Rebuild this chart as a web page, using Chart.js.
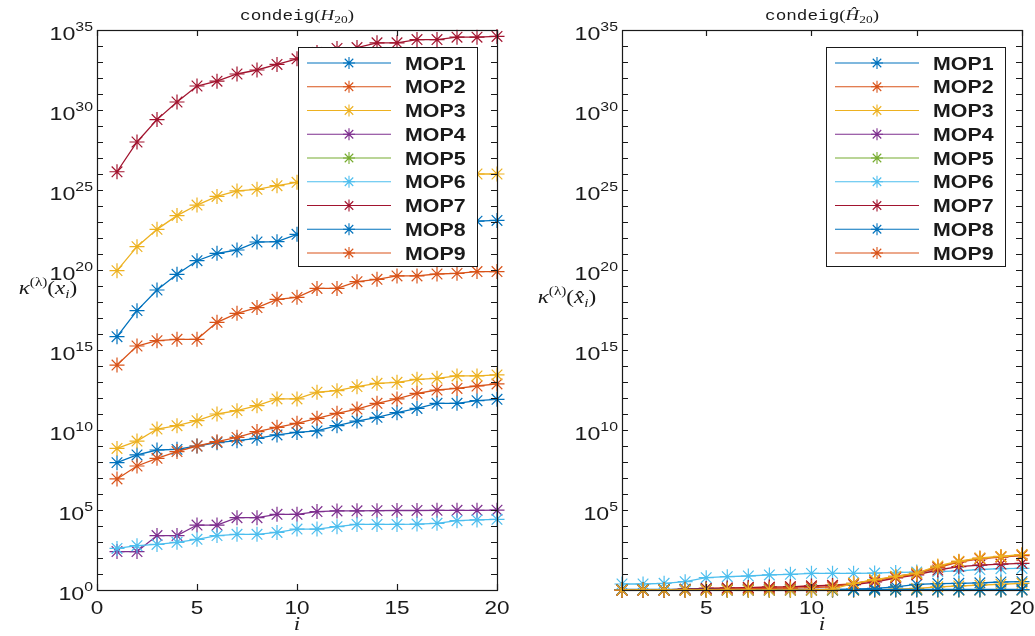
<!DOCTYPE html>
<html>
<head>
<meta charset="utf-8">
<script src="https://cdn.jsdelivr.net/npm/chart.js@4.4.1/dist/chart.umd.min.js"></script>
<style>
  body { margin: 0; background: #fff; width: 1035px; height: 636px; overflow: hidden; position: relative; }
  canvas { position: absolute; top: 0; }
</style>
</head>
<body>
<canvas id="left" width="517" height="636" style="left:0"></canvas>
<canvas id="right" width="518" height="636" style="left:517px"></canvas>
<script>
// index i of the eigenvalue
const steps = [1, 2, 3, 4, 5, 6, 7, 8, 9, 10, 11, 12, 13, 14, 15, 16, 17, 18, 19, 20];
const seriesNames = ['MOP1', 'MOP2', 'MOP3', 'MOP4', 'MOP5', 'MOP6', 'MOP7', 'MOP8', 'MOP9', ''];
const seriesColors = ['#0072BD', '#D95319', '#EDB120', '#7E2F8E', '#77AC30', '#4DBEEE', '#A2142F', '#0072BD', '#D95319', '#EDB120'];

// log10 of kappa -- left panel, condeig(H20)
const leftMop1 = [7.96, 8.44, 8.75, 8.79, 9.0, 9.21, 9.33, 9.48, 9.69, 9.85, 9.94, 10.27, 10.56, 10.79, 11.08, 11.35, 11.67, 11.67, 11.83, 11.92];
const leftMop2 = [6.94, 7.75, 8.23, 8.65, 9.0, 9.27, 9.54, 9.9, 10.17, 10.42, 10.73, 11.04, 11.31, 11.67, 11.94, 12.29, 12.5, 12.6, 12.75, 12.88];
const leftMop3 = [8.85, 9.31, 10.06, 10.27, 10.58, 11.0, 11.21, 11.52, 11.94, 11.94, 12.36, 12.46, 12.71, 12.92, 12.98, 13.17, 13.23, 13.38, 13.38, 13.44];
const leftMop4 = [2.4, 2.4, 3.4, 3.4, 4.06, 4.06, 4.52, 4.52, 4.73, 4.73, 4.9, 4.94, 4.95, 4.96, 4.97, 4.97, 4.98, 4.98, 4.98, 4.99];
const leftMop5 = [null, null, null, null, null, null, null, null, null, null, null, null, null, null, null, null, null, null, null, null];
const leftMop6 = [2.6, 2.77, 2.85, 2.98, 3.17, 3.4, 3.48, 3.48, 3.6, 3.81, 3.81, 3.96, 4.1, 4.1, 4.1, 4.12, 4.17, 4.33, 4.38, 4.42];
const leftMop7 = [26.14, 28.0, 29.4, 30.5, 31.5, 31.8, 32.25, 32.5, 32.85, 33.2, 33.6, 33.85, 33.9, 34.2, 34.2, 34.4, 34.4, 34.55, 34.55, 34.6];
const leftMop8 = [15.83, 17.46, 18.75, 19.73, 20.58, 21.04, 21.25, 21.75, 21.77, 22.23, 22.4, 22.5, 22.6, 22.7, 22.8, 22.85, 22.9, 23.0, 23.05, 23.1];
const leftMop9 = [14.06, 15.25, 15.58, 15.67, 15.67, 16.73, 17.29, 17.65, 18.17, 18.29, 18.85, 18.85, 19.27, 19.42, 19.63, 19.63, 19.75, 19.79, 19.9, 19.9];
const leftMop10 = [19.96, 21.46, 22.54, 23.4, 24.06, 24.6, 24.94, 25.04, 25.27, 25.48, 25.6, 25.7, 25.75, 25.8, 25.85, 25.9, 25.95, 25.95, 26.0, 26.0];

// right panel, condeig(H^20)
const rightMop1 = [0, 0, 0, 0, 0, 0, 0, 0, 0, 0, 0.02, 0.05, 0.1, 0.2, 0.35, 0.4, 0.42, 0.45, 0.5, 0.52];
const rightMop2 = [0, 0, 0, 0.05, 0.1, 0.12, 0.15, 0.18, 0.2, 0.25, 0.3, 0.4, 0.6, 0.85, 1.05, 1.45, 1.77, 1.98, 2.08, 2.19];
const rightMop3 = [0, 0, 0, 0, 0, 0, 0, 0, 0, 0, 0, 0, 0, 0.05, 0.1, 0.2, 0.25, 0.3, 0.36, 0.42];
const rightMop4 = [0, 0, 0, 0, 0, 0, 0, 0, 0, 0, 0, 0, 0, 0, 0, 0, 0, 0, 0, 0];
const rightMop5 = [0, 0, 0, 0, 0, 0, 0, 0, 0, 0, 0, 0, 0, 0, 0, 0, 0, 0, 0, 0];
const rightMop6 = [0.375, 0.375, 0.42, 0.52, 0.77, 0.83, 0.875, 0.94, 0.98, 1.04, 1.04, 1.04, 1.06, 1.1, 1.12, 1.15, 1.2, 1.28, 1.33, 1.35];
const rightMop7 = [0, 0, 0, 0.05, 0.1, 0.12, 0.15, 0.18, 0.2, 0.25, 0.28, 0.33, 0.5, 0.75, 0.95, 1.25, 1.46, 1.56, 1.62, 1.67];
const rightMop8 = [0.03, 0.03, 0.03, 0.03, 0.03, 0.03, 0.03, 0.03, 0.03, 0.03, 0.03, 0.03, 0.03, 0.03, 0.03, 0.03, 0.03, 0.03, 0.03, 0.03];
const rightMop9 = [0, 0, 0, 0, 0.02, 0.05, 0.08, 0.1, 0.12, 0.15, 0.2, 0.42, 0.62, 0.8, 1.0, 1.4, 1.75, 1.95, 2.05, 2.15];
const rightMop10 = [0, 0, 0, 0, 0, 0, 0, 0, 0, 0, 0.05, 0.42, 0.65, 0.85, 1.05, 1.5, 1.8, 2.0, 2.1, 2.22];

const yTickExps = [0, 5, 10, 15, 20, 25, 30, 35];
const leftXTicks = [0, 5, 10, 15, 20];
const rightXTicks = [5, 10, 15, 20];

const SX = 1.22;        // text in the picture is a bit wide
const INK = '#1a1a1a';
const SANS = 'Liberation Sans, Arial, sans-serif';
const SERIF = 'Liberation Serif, DejaVu Serif, serif';
const MONO = 'Liberation Mono, DejaVu Sans Mono, monospace';

// draw a list of text runs (for super/subscripts)
function drawRuns(ctx, parts, x, y, align) {
  let total = 0;
  parts.forEach(p => { ctx.font = p.font; total += ctx.measureText(p.s).width * SX; });
  let cx = align === 'center' ? x - total / 2 : align === 'right' ? x - total : x;
  parts.forEach(p => {
    ctx.save();
    ctx.font = p.font;
    ctx.fillStyle = INK;
    ctx.textBaseline = 'alphabetic';
    ctx.textAlign = 'left';
    ctx.translate(cx, y + (p.dy || 0));
    ctx.scale(SX, 1);
    ctx.fillText(p.s, 0, 0);
    ctx.restore();
    ctx.font = p.font;
    cx += ctx.measureText(p.s).width * SX;
  });
}

function drawStar(ctx, x, y, r, color) {
  ctx.save();
  ctx.strokeStyle = color;
  ctx.lineWidth = 1.1;
  ctx.beginPath();
  for (let k = 0; k < 4; k++) {
    const a = k * Math.PI / 4;
    ctx.moveTo(x - Math.cos(a) * r, y - Math.sin(a) * r);
    ctx.lineTo(x + Math.cos(a) * r, y + Math.sin(a) * r);
  }
  ctx.stroke();
  ctx.restore();
}

function makeDatasets(list) {
  return list.map((exps, k) => ({
    label: seriesNames[k],
    data: steps.map((s, j) => ({ x: s, y: exps[j] == null ? null : Math.pow(10, exps[j]) })),
    borderColor: seriesColors[k],
    backgroundColor: seriesColors[k],
    borderWidth: 1.3,
    pointStyle: 'star',
    pointRadius: 7.5,
    pointBorderWidth: 1.2,
    pointBorderColor: seriesColors[k],
    tension: 0,
    clip: false,
    order: list.length - 1 - k
  }));
}

function framePlugin(side) {
  return {
    id: 'frame',
    afterDraw(chart) {
      const ctx = chart.ctx;
      const a = chart.chartArea;
      const xs = chart.scales.x;
      const ys = chart.scales.y;
      ctx.save();
      ctx.strokeStyle = INK;
      ctx.lineWidth = 1.2;
      // ticks every decade, pointing inwards on both sides
      ctx.beginPath();
      for (let e = 0; e <= 35; e++) {
        const py = Math.round(ys.getPixelForValue(Math.pow(10, e))) + 0.5;
        ctx.moveTo(a.left, py); ctx.lineTo(a.left + 6, py);
        ctx.moveTo(a.right, py); ctx.lineTo(a.right - 6, py);
      }
      side.xTicks.forEach(v => {
        const px = Math.round(xs.getPixelForValue(v)) + 0.5;
        ctx.moveTo(px, a.bottom); ctx.lineTo(px, a.bottom - 6);
        ctx.moveTo(px, a.top); ctx.lineTo(px, a.top + 6);
      });
      ctx.stroke();
      ctx.strokeRect(Math.round(a.left) + 0.5, Math.round(a.top) + 0.5, Math.round(a.right - a.left), Math.round(a.bottom - a.top));

      // tick labels
      yTickExps.forEach(e => {
        if (e === 0 && !side.zeroLabel) return;
        const py = ys.getPixelForValue(Math.pow(10, e));
        drawRuns(ctx, [
          { s: '10', font: '19px ' + SANS },
          { s: String(e), font: '13px ' + SANS, dy: -9 }
        ], a.left - 4, py + 10, 'right');
      });
      side.xTicks.forEach(v => {
        drawRuns(ctx, [{ s: String(v), font: '18.5px ' + SANS }], xs.getPixelForValue(v), a.bottom + 24, 'center');
      });
      const mid = (a.left + a.right) / 2;
      drawRuns(ctx, [{ s: 'i', font: 'italic 19px ' + SERIF }], mid, 630, 'center');
      drawRuns(ctx, side.title, mid, 20, 'center');
      drawRuns(ctx, side.yLabel, side.yLabelX, side.yLabelY, 'center');

      // legend box
      const lx = side.legendX, ly = 47, lw = 179, lh = 219;
      ctx.fillStyle = '#fff';
      ctx.fillRect(lx, ly, lw, lh);
      ctx.lineWidth = 1;
      ctx.strokeStyle = INK;
      ctx.strokeRect(lx + 0.5, ly + 0.5, lw, lh);
      chart.data.datasets.filter(d => d.label).forEach((d, k) => {
        const ry = 63 + k * 23.75;
        ctx.strokeStyle = d.borderColor;
        ctx.lineWidth = 1.2;
        ctx.beginPath();
        ctx.moveTo(lx + 9, ry); ctx.lineTo(lx + 93, ry);
        ctx.stroke();
        drawStar(ctx, lx + 51, ry, 6, d.borderColor);
        drawRuns(ctx, [{ s: d.label, font: 'bold 17.5px ' + SANS }], lx + 107, ry + 6.5, 'left');
      });
      ctx.restore();
    }
  };
}

function makeChart(id, lists, side) {
  return new Chart(document.getElementById(id), {
    type: 'line',
    data: { datasets: makeDatasets(lists) },
    options: {
      responsive: false,
      animation: false,
      devicePixelRatio: 1,
      layout: { padding: side.padding },
      plugins: { legend: { display: false }, title: { display: false }, tooltip: { enabled: false } },
      scales: {
        x: { type: 'linear', min: side.xMin, max: 20, display: false },
        y: { type: 'logarithmic', min: 1, max: 1e35, display: false }
      }
    },
    plugins: [framePlugin(side)]
  });
}

makeChart('left',
  [leftMop1, leftMop2, leftMop3, leftMop4, leftMop5, leftMop6, leftMop7, leftMop8, leftMop9, leftMop10],
  {
    padding: { left: 97, right: 20, top: 30, bottom: 46 },
    xMin: 0,
    xTicks: leftXTicks,
    zeroLabel: true,
    legendX: 298,
    yLabelX: 48, yLabelY: 294,
    title: [
      { s: 'condeig', font: '14.5px ' + MONO },
      { s: '(', font: '15.5px ' + SERIF },
      { s: 'H', font: 'italic 15.5px ' + SERIF },
      { s: '20', font: '11px ' + SERIF, dy: 3 },
      { s: ')', font: '15.5px ' + SERIF }
    ],
    yLabel: [
      { s: 'κ', font: 'italic 19px ' + SERIF },
      { s: '(λ)', font: '12.5px ' + SERIF, dy: -8 },
      { s: '(', font: '19px ' + SERIF },
      { s: 'x', font: 'italic 19px ' + SERIF },
      { s: 'i', font: 'italic 12.5px ' + SERIF, dy: 4 },
      { s: ')', font: '19px ' + SERIF }
    ]
  });

makeChart('right',
  [rightMop1, rightMop2, rightMop3, rightMop4, rightMop5, rightMop6, rightMop7, rightMop8, rightMop9, rightMop10],
  {
    padding: { left: 105, right: 13, top: 30, bottom: 46 },
    xMin: 1,
    xTicks: rightXTicks,
    zeroLabel: false,
    legendX: 309,
    yLabelX: 50, yLabelY: 303,
    title: [
      { s: 'condeig', font: '14.5px ' + MONO },
      { s: '(', font: '15.5px ' + SERIF },
      { s: 'Ĥ', font: 'italic 15.5px ' + SERIF },
      { s: '20', font: '11px ' + SERIF, dy: 3 },
      { s: ')', font: '15.5px ' + SERIF }
    ],
    yLabel: [
      { s: 'κ', font: 'italic 19px ' + SERIF },
      { s: '(λ)', font: '12.5px ' + SERIF, dy: -8 },
      { s: '(', font: '19px ' + SERIF },
      { s: 'x\u0302', font: 'italic 19px ' + SERIF },
      { s: 'i', font: 'italic 12.5px ' + SERIF, dy: 4 },
      { s: ')', font: '19px ' + SERIF }
    ]
  });
</script>
</body>
</html>
